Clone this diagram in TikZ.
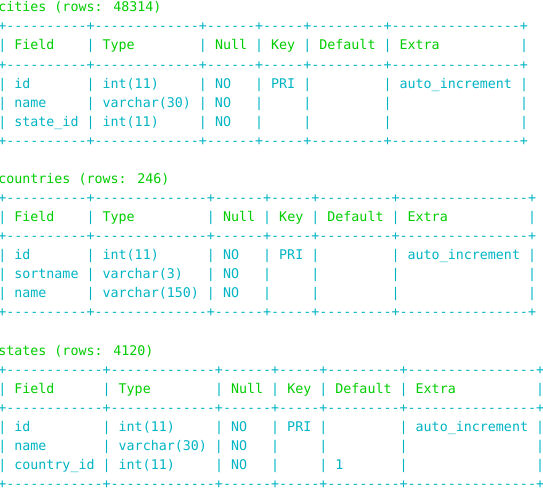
\documentclass[tikz,border=0pt]{standalone}
\usepackage{fontspec}
\usepackage{xcolor}
\usepackage{tikz}
\usetikzlibrary{positioning}
\newfontfamily\termfont{DejaVu Sans Mono}
\definecolor{termcyan}{RGB}{0,180,196}
\definecolor{termgreen}{RGB}{0,205,0}
\newlength\cw
\newcommand\hd[1]{\textcolor{termgreen}{#1}}
\newcommand\dsh[1]{\foreach\k in {1,...,#1}{-\kern0pt}}
\newcommand\brd[1]{+\foreach\w in {#1}{\dsh{\w}+}}
\newcommand\cel[2]{\makebox[#1\cw][l]{\hspace{\cw}#2}|}
\newcommand\intest[1]{|\foreach\w/\t in {#1}{\cel{\w}{\hd{\t}}}}

\begin{document}
\settowidth\cw{\termfont\fontsize{10pt}{12pt}\selectfont x}
\begin{tikzpicture}[x=0.75pt,y=-14.3pt,
    riga/.style={anchor=base west,inner sep=0pt,font=\termfont\fontsize{10pt}{12pt}\selectfont,text=termcyan},
    titolo/.style={riga,text=termgreen}]
    \useasboundingbox (0,-0.619) rectangle (543,25.023);

    % Tabella cities
    \node[titolo] (cities) at (-2,0) {cities (rows: 48314)};
    \node[riga] (ci-top) at (-2,1) {\brd{10,13,6,5,9,16}};
    \node[riga] (ci-head) at (-2,2) {\intest{10/Field,13/Type,6/Null,5/Key,9/Default,16/Extra}};
    \node[riga] (ci-mid) at (-2,3) {\brd{10,13,6,5,9,16}};
    \node[riga] (ci-r1) at (-2,4) {|\cel{10}{id}\cel{13}{int(11)}\cel{6}{NO}\cel{5}{PRI}\cel{9}{}\cel{16}{auto\_increment}};
    \node[riga] (ci-r2) at (-2,5) {|\cel{10}{name}\cel{13}{varchar(30)}\cel{6}{NO}\cel{5}{}\cel{9}{}\cel{16}{}};
    \node[riga] (ci-r3) at (-2,6) {|\cel{10}{state\_id}\cel{13}{int(11)}\cel{6}{NO}\cel{5}{}\cel{9}{}\cel{16}{}};
    \node[riga] (ci-bot) at (-2,7) {\brd{10,13,6,5,9,16}};

    % Tabella countries
    \node[titolo] (countries) at (-2,9) {countries (rows: 246)};
    \node[riga] (co-top) at (-2,10) {\brd{10,14,6,5,9,16}};
    \node[riga] (co-head) at (-2,11) {\intest{10/Field,14/Type,6/Null,5/Key,9/Default,16/Extra}};
    \node[riga] (co-mid) at (-2,12) {\brd{10,14,6,5,9,16}};
    \node[riga] (co-r1) at (-2,13) {|\cel{10}{id}\cel{14}{int(11)}\cel{6}{NO}\cel{5}{PRI}\cel{9}{}\cel{16}{auto\_increment}};
    \node[riga] (co-r2) at (-2,14) {|\cel{10}{sortname}\cel{14}{varchar(3)}\cel{6}{NO}\cel{5}{}\cel{9}{}\cel{16}{}};
    \node[riga] (co-r3) at (-2,15) {|\cel{10}{name}\cel{14}{varchar(150)}\cel{6}{NO}\cel{5}{}\cel{9}{}\cel{16}{}};
    \node[riga] (co-bot) at (-2,16) {\brd{10,14,6,5,9,16}};

    % Tabella states
    \node[titolo] (states) at (-2,18) {states (rows: 4120)};
    \node[riga] (st-top) at (-2,19) {\brd{12,13,6,5,9,16}};
    \node[riga] (st-head) at (-2,20) {\intest{12/Field,13/Type,6/Null,5/Key,9/Default,16/Extra}};
    \node[riga] (st-mid) at (-2,21) {\brd{12,13,6,5,9,16}};
    \node[riga] (st-r1) at (-2,22) {|\cel{12}{id}\cel{13}{int(11)}\cel{6}{NO}\cel{5}{PRI}\cel{9}{}\cel{16}{auto\_increment}};
    \node[riga] (st-r2) at (-2,23) {|\cel{12}{name}\cel{13}{varchar(30)}\cel{6}{NO}\cel{5}{}\cel{9}{}\cel{16}{}};
    \node[riga] (st-r3) at (-2,24) {|\cel{12}{country\_id}\cel{13}{int(11)}\cel{6}{NO}\cel{5}{}\cel{9}{1}\cel{16}{}};
    \node[riga] (st-bot) at (-2,25) {\brd{12,13,6,5,9,16}};
\end{tikzpicture}
\end{document}
